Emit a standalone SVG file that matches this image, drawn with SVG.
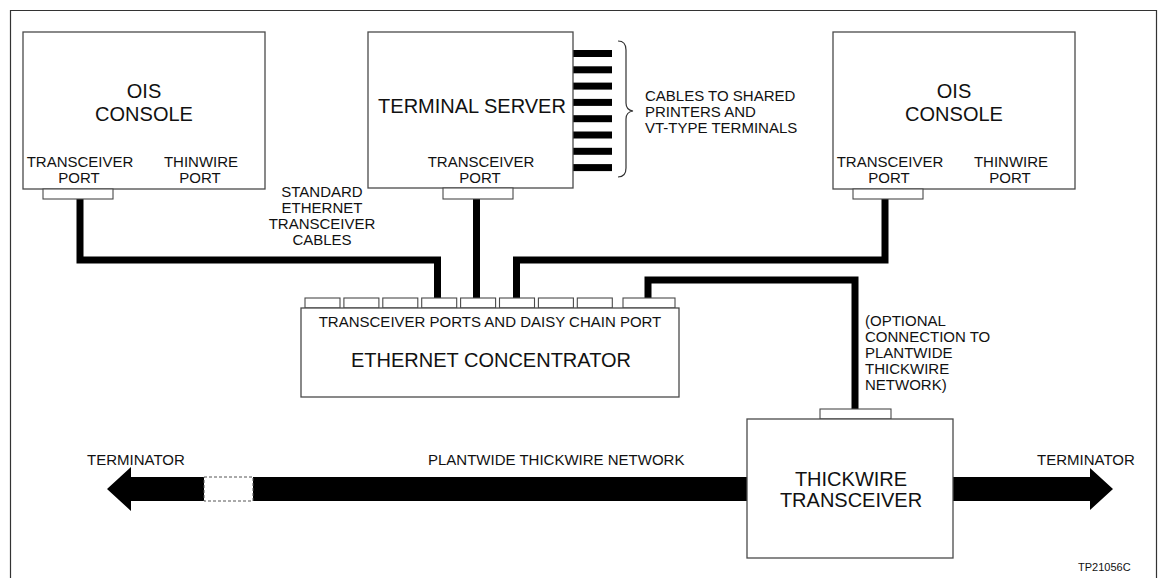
<svg xmlns="http://www.w3.org/2000/svg" width="1165" height="578" viewBox="0 0 1165 578">
<style>
  .box { fill: #ffffff; stroke: #4a4a4a; stroke-width: 1.3; }
  .tab { fill: #ffffff; stroke: #4a4a4a; stroke-width: 1.1; }
  .cable { fill: none; stroke: #000000; stroke-width: 7; stroke-linejoin: miter; stroke-linecap: butt; }
  .bar { fill: #000000; }
  .frame { fill: none; stroke: #333333; stroke-width: 1.2; }
  text { font-family: "Liberation Sans", Arial, sans-serif; fill: #111111; }
  .sm { font-size: 15px; }
  .lg { font-size: 20px; }
  .mid { text-anchor: middle; }
</style>
<rect x="0" y="0" width="1165" height="578" fill="#ffffff"/>
<path class="frame" d="M10.5 578 V10.5 H1156.5 V578"/>

<g id="connectors">
  <path class="cable" d="M80 199 V260 H437.5 V298"/>
  <path class="cable" d="M476.5 199 V298"/>
  <path class="cable" d="M885 199 V260 H516.5 V298"/>
  <path class="cable" d="M648 298 V280 H855 V409"/>
  <g id="terminal-cables">
    <rect class="bar" x="573" y="50" width="39" height="7"/>
    <rect class="bar" x="573" y="66.3" width="39" height="7"/>
    <rect class="bar" x="573" y="82.6" width="39" height="7"/>
    <rect class="bar" x="573" y="98.9" width="39" height="7"/>
    <rect class="bar" x="573" y="115.2" width="39" height="7"/>
    <rect class="bar" x="573" y="131.5" width="39" height="7"/>
    <rect class="bar" x="573" y="147.8" width="39" height="7"/>
    <rect class="bar" x="573" y="164.1" width="39" height="7"/>
  </g>
  <path d="M618 41 Q626 41 626 50 V103 Q626 110 633 111 Q626 112 626 119 V168 Q626 177 618 177" fill="none" stroke="#333" stroke-width="1.2"/>
</g>

<g id="ois-console-left">
  <rect class="box" x="23" y="32" width="242" height="157"/>
  <rect class="tab" x="43" y="189" width="70" height="10"/>
  <text class="lg mid" x="144" y="98">OIS</text>
  <text class="lg mid" x="144" y="121">CONSOLE</text>
  <text class="sm mid" x="80" y="167">TRANSCEIVER</text>
  <text class="sm mid" x="79" y="183">PORT</text>
  <text class="sm mid" x="201" y="167">THINWIRE</text>
  <text class="sm mid" x="200" y="183">PORT</text>
</g>

<g id="terminal-server">
  <rect class="box" x="368" y="32" width="205" height="156"/>
  <rect class="tab" x="443" y="188" width="70" height="11"/>
  <text class="lg mid" x="472" y="113">TERMINAL SERVER</text>
  <text class="sm mid" x="481" y="167">TRANSCEIVER</text>
  <text class="sm mid" x="480" y="183">PORT</text>
</g>

<g id="cables-label">
  <text class="sm" x="645" y="101">CABLES TO SHARED</text>
  <text class="sm" x="645" y="117">PRINTERS AND</text>
  <text class="sm" x="645" y="133">VT-TYPE TERMINALS</text>
</g>

<g id="ois-console-right">
  <rect class="box" x="833" y="32" width="242" height="157"/>
  <rect class="tab" x="853" y="189" width="70" height="10"/>
  <text class="lg mid" x="954" y="98">OIS</text>
  <text class="lg mid" x="954" y="121">CONSOLE</text>
  <text class="sm mid" x="890" y="167">TRANSCEIVER</text>
  <text class="sm mid" x="889" y="183">PORT</text>
  <text class="sm mid" x="1011" y="167">THINWIRE</text>
  <text class="sm mid" x="1010" y="183">PORT</text>
</g>

<g id="cable-label">
  <text class="sm mid" x="322" y="197">STANDARD</text>
  <text class="sm mid" x="322" y="213">ETHERNET</text>
  <text class="sm mid" x="322" y="229">TRANSCEIVER</text>
  <text class="sm mid" x="322" y="245">CABLES</text>
</g>

<g id="ethernet-concentrator">
  <rect class="tab" x="305" y="298" width="35" height="10"/>
  <rect class="tab" x="343.9" y="298" width="35" height="10"/>
  <rect class="tab" x="382.8" y="298" width="35" height="10"/>
  <rect class="tab" x="421.7" y="298" width="35" height="10"/>
  <rect class="tab" x="460.6" y="298" width="35" height="10"/>
  <rect class="tab" x="499.5" y="298" width="35" height="10"/>
  <rect class="tab" x="538.4" y="298" width="35" height="10"/>
  <rect class="tab" x="577.3" y="298" width="35" height="10"/>
  <rect class="tab" x="623" y="298" width="52" height="10"/>
  <rect class="box" x="301" y="308" width="378" height="89"/>
  <text class="sm mid" x="490" y="327">TRANSCEIVER PORTS AND DAISY CHAIN PORT</text>
  <text class="lg mid" x="491" y="367">ETHERNET CONCENTRATOR</text>
</g>

<g id="optional-label">
  <text class="sm" x="865" y="326">(OPTIONAL</text>
  <text class="sm" x="865" y="342">CONNECTION TO</text>
  <text class="sm" x="865" y="358">PLANTWIDE</text>
  <text class="sm" x="865" y="374">THICKWIRE</text>
  <text class="sm" x="865" y="390">NETWORK)</text>
</g>

<g id="thickwire-network">
  <polygon fill="#000" points="107,489 131,467 131,477 747,477 747,501 131,501 131,511"/>
  <rect x="204" y="477" width="49" height="24" fill="#fff" stroke="#555" stroke-width="1" stroke-dasharray="3,2"/>
  <polygon fill="#000" points="953,477 1090,477 1090,468 1113,489 1090,510 1090,501 953,501"/>
  <text class="sm" x="87" y="465">TERMINATOR</text>
  <text class="sm" x="428" y="465">PLANTWIDE THICKWIRE NETWORK</text>
  <text class="sm" x="1037" y="465">TERMINATOR</text>
</g>

<g id="thickwire-transceiver">
  <rect class="tab" x="820" y="409" width="71" height="10"/>
  <rect class="box" x="747" y="419" width="206" height="139"/>
  <text class="lg mid" x="851" y="486">THICKWIRE</text>
  <text class="lg mid" x="851" y="507">TRANSCEIVER</text>
</g>

<text x="1078" y="571" style="font-size:11px">TP21056C</text>
</svg>
